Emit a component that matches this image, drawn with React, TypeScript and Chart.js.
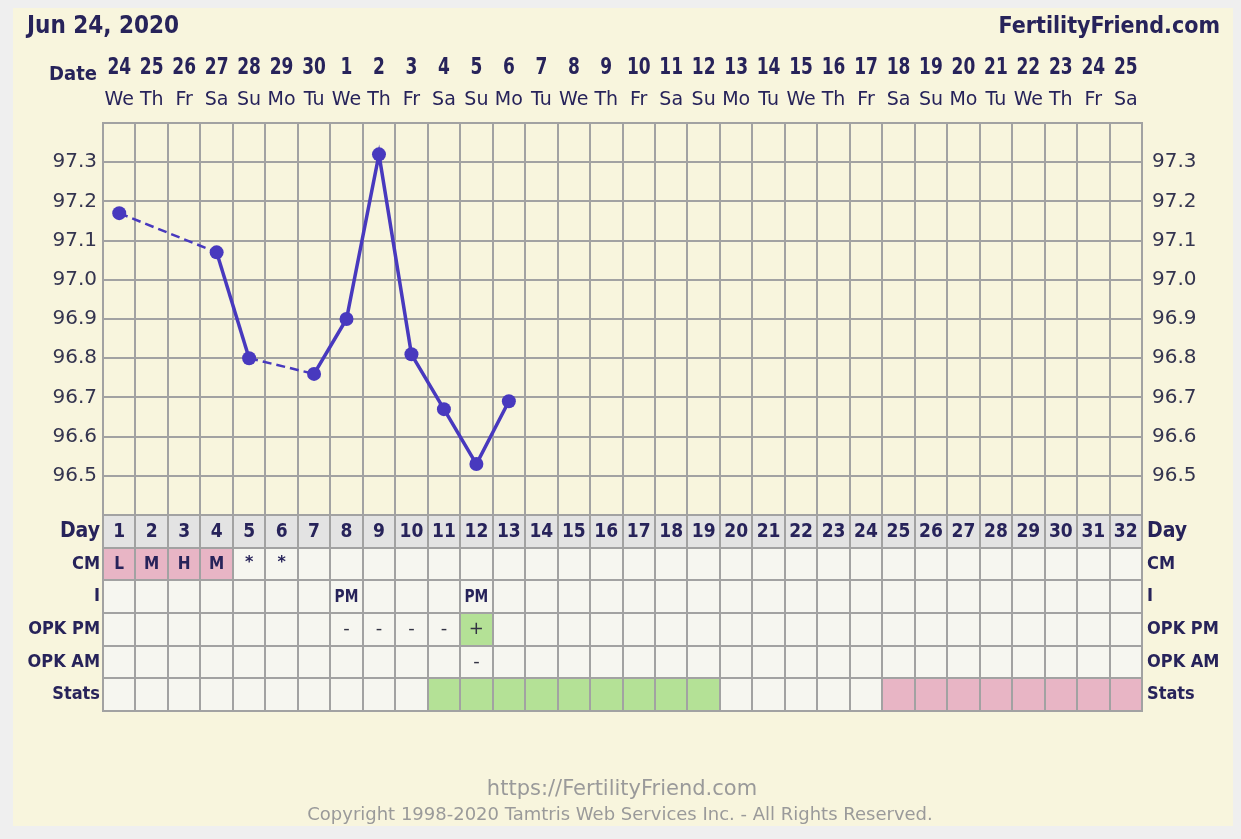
import React, { useEffect, useRef } from 'react';
import { Chart, registerables } from 'chart.js';

Chart.register(...registerables);

// ---------- data ----------
const DATE_LABELS = ['24', '25', '26', '27', '28', '29', '30', '1', '2', '3', '4', '5', '6', '7', '8', '9', '10', '11', '12', '13', '14', '15', '16', '17', '18', '19', '20', '21', '22', '23', '24', '25'];
const WEEKDAY_LABELS = ['We', 'Th', 'Fr', 'Sa', 'Su', 'Mo', 'Tu', 'We', 'Th', 'Fr', 'Sa', 'Su', 'Mo', 'Tu', 'We', 'Th', 'Fr', 'Sa', 'Su', 'Mo', 'Tu', 'We', 'Th', 'Fr', 'Sa', 'Su', 'Mo', 'Tu', 'We', 'Th', 'Fr', 'Sa'];
const CYCLE_DAYS = ['1', '2', '3', '4', '5', '6', '7', '8', '9', '10', '11', '12', '13', '14', '15', '16', '17', '18', '19', '20', '21', '22', '23', '24', '25', '26', '27', '28', '29', '30', '31', '32'];
const TEMPS = [97.17, null, null, 97.07, 96.80, null, 96.76, 96.90, 97.32, 96.81, 96.67, 96.53, 96.69, null, null, null, null, null, null, null, null, null, null, null, null, null, null, null, null, null, null, null];
const TEMP_TICKS = ['96.5', '96.6', '96.7', '96.8', '96.9', '97.0', '97.1', '97.2', '97.3'];
const ROW_LABELS = ['Day', 'CM', 'I', 'OPK PM', 'OPK AM', 'Stats'];

const CM_DAYS = [1, 2, 3, 4, 5, 6];
const CM_MARKS = ['L', 'M', 'H', 'M', '*', '*'];
const MENSES_DAYS = [1, 2, 3, 4];
const INTERCOURSE_DAYS = [8, 12];
const INTERCOURSE_MARKS = ['PM', 'PM'];
const OPK_PM_DAYS = [8, 9, 10, 11, 12];
const OPK_PM_MARKS = ['-', '-', '-', '-', '+'];
const OPK_POSITIVE_DAYS = [12];
const OPK_AM_DAYS = [12];
const OPK_AM_MARKS = ['-'];
const FERTILE_DAYS = [11, 12, 13, 14, 15, 16, 17, 18, 19];
const LUTEAL_DAYS = [25, 26, 27, 28, 29, 30, 31, 32];

const CHART_DATE = 'Jun 24, 2020';
const SITE_NAME = 'FertilityFriend.com';
const DATE_TITLE = 'Date';
const FOOTER_URL = 'https://FertilityFriend.com';
const FOOTER_COPY = 'Copyright 1998-2020 Tamtris Web Services Inc. - All Rights Reserved.';

// ---------- style ----------
const PAGE_BG = '#efefef';
const PANEL_BG = '#f8f5dd';
const GRID = '#a2a2a2';
const NAVY = '#27235a';
const TICK_TEXT = '#34344f';
const LINE = '#4839be';
const CELL_BG = '#f6f6f0';
const DAY_ROW_BG = '#e3e3e3';
const PINK = '#e8b5c5';
const GREEN = '#b4e196';
const FOOTER = '#9a9a9a';
const SANS = '"DejaVu Sans", Verdana, sans-serif';
const COND = '"DejaVu Sans Condensed", "DejaVu Sans", sans-serif';

function text(ctx: CanvasRenderingContext2D, s: string, x: number, y: number, font: string, color: string, align: CanvasTextAlign, baseline: CanvasTextBaseline = 'alphabetic', sx = 1) {
  ctx.save();
  ctx.translate(x, y);
  ctx.scale(sx, 1);
  ctx.font = font;
  ctx.fillStyle = color;
  ctx.textAlign = align;
  ctx.textBaseline = baseline;
  ctx.fillText(s, 0, 0);
  ctx.restore();
}

const tablePlugin = {
  id: 'ffTable',
  beforeDraw(chart: any) {
    const { ctx, width, height } = chart;
    const xs = chart.scales.x;
    const rs = chart.scales.rows;
    ctx.save();
    ctx.fillStyle = PAGE_BG;
    ctx.fillRect(0, 0, width, height);
    ctx.fillStyle = PANEL_BG;
    ctx.fillRect(13, 8, 1220, 818);
    const colW = xs.getPixelForValue(1) - xs.getPixelForValue(0);
    const rowH = rs.getPixelForValue(1) - rs.getPixelForValue(0);
    for (let r = 0; r < ROW_LABELS.length; r++) {
      for (let c = 0; c < CYCLE_DAYS.length; c++) {
        const day = c + 1;
        let fill = CELL_BG;
        if (r === 0) fill = DAY_ROW_BG;
        else if (r === 1 && MENSES_DAYS.includes(day)) fill = PINK;
        else if (r === 3 && OPK_POSITIVE_DAYS.includes(day)) fill = GREEN;
        else if (r === 5 && FERTILE_DAYS.includes(day)) fill = GREEN;
        else if (r === 5 && LUTEAL_DAYS.includes(day)) fill = PINK;
        const cx = xs.getPixelForValue(c);
        const cy = rs.getPixelForValue(r);
        ctx.fillStyle = fill;
        ctx.fillRect(cx - colW / 2, cy - rowH / 2, colW, rowH);
      }
    }
    ctx.restore();
  },
  afterDraw(chart: any) {
    const { ctx } = chart;
    const xs = chart.scales.x;
    const rs = chart.scales.rows;
    ctx.save();
    // titles
    text(ctx, CHART_DATE, 27, 33, `bold 24px ${COND}`, NAVY, 'left');
    text(ctx, SITE_NAME, 1220, 33, `bold 23px ${COND}`, NAVY, 'right');
    text(ctx, DATE_TITLE, 97, 80, `bold 20px ${COND}`, NAVY, 'right');
    // date numbers of the top axis (condensed bold)
    DATE_LABELS.forEach((_, i) => {
      text(ctx, xs.getLabelForValue(i), xs.getPixelForValue(i), 74, `bold 23px ${SANS}`, NAVY, 'center', 'alphabetic', 0.74);
    });
    // footer
    text(ctx, FOOTER_URL, 622, 795, `21px ${SANS}`, FOOTER, 'center');
    text(ctx, FOOTER_COPY, 620, 820, `18px ${SANS}`, FOOTER, 'center');
    // day row
    CYCLE_DAYS.forEach((d, i) => {
      text(ctx, d, xs.getPixelForValue(i), rs.getPixelForValue(0) + 1, `bold 19px ${COND}`, NAVY, 'center', 'middle');
    });
    CM_DAYS.forEach((d, i) => {
      const m = CM_MARKS[i];
      const big = m !== '*';
      text(ctx, m, xs.getPixelForValue(d - 1), rs.getPixelForValue(1) + (big ? 1 : -1), big ? `bold 17px ${COND}` : `bold 16px ${SANS}`, NAVY, 'center', 'middle');
    });
    INTERCOURSE_DAYS.forEach((d, i) => {
      text(ctx, INTERCOURSE_MARKS[i], xs.getPixelForValue(d - 1), rs.getPixelForValue(2) + 1, `bold 17px ${COND}`, NAVY, 'center', 'middle', 0.9);
    });
    OPK_PM_DAYS.forEach((d, i) => {
      text(ctx, OPK_PM_MARKS[i], xs.getPixelForValue(d - 1), rs.getPixelForValue(3), `18px ${SANS}`, '#333344', 'center', 'middle');
    });
    OPK_AM_DAYS.forEach((d, i) => {
      text(ctx, OPK_AM_MARKS[i], xs.getPixelForValue(d - 1), rs.getPixelForValue(4), `18px ${SANS}`, '#333344', 'center', 'middle');
    });
    ctx.restore();
  },
};

const tempTick = (v: any) => {
  const s = Number(v).toFixed(1);
  return TEMP_TICKS.includes(s) ? s : '';
};

const rowFont = (c: any) => (c.index === 0
  ? { family: COND, size: 21, weight: 'bold' }
  : { family: COND, size: 18, weight: 'bold' });

const skipped = (c: any, v: any) => (c.p0.skip || c.p1.skip ? v : undefined);

export default function App() {
  const ref = useRef<HTMLCanvasElement | null>(null);
  useEffect(() => {
    if (!ref.current) return;
    const chart = new Chart(ref.current, {
      type: 'line',
      data: {
        labels: DATE_LABELS,
        datasets: [
          {
            label: 'BBT',
            data: TEMPS,
            xAxisID: 'x',
            yAxisID: 'y',
            spanGaps: true,
            borderColor: LINE,
            backgroundColor: LINE,
            borderWidth: 3.5,
            pointRadius: 7,
            pointBorderWidth: 0,
            pointBackgroundColor: LINE,
            tension: 0,
            segment: {
              borderDash: (c: any) => skipped(c, [9, 5]),
              borderWidth: (c: any) => skipped(c, 2.5),
            },
          } as any,
        ],
      },
      options: {
        responsive: false,
        devicePixelRatio: 1,
        animation: false,
        events: [],
        layout: { padding: { top: 40, left: 0, right: 0, bottom: 128 } },
        plugins: { legend: { display: false }, tooltip: { enabled: false }, title: { display: false } },
        scales: {
          x: {
            type: 'category',
            position: 'top',
            weight: 2,
            labels: DATE_LABELS,
            offset: true,
            grid: { display: true, offset: true, color: GRID, lineWidth: 2, drawTicks: false },
            border: { display: false },
            ticks: { display: false, autoSkip: false, maxRotation: 0 },
            afterFit: (s: any) => { s.height = 42; },
          },
          xw: {
            type: 'category',
            position: 'top',
            weight: 1,
            labels: WEEKDAY_LABELS,
            offset: true,
            grid: { display: false, drawTicks: false },
            border: { display: false },
            ticks: { autoSkip: false, maxRotation: 0, padding: 12, color: NAVY, font: { family: SANS, size: 19 } },
            afterFit: (s: any) => { s.height = 41; },
          },
          y: {
            type: 'linear',
            position: 'left',
            stack: 'left',
            stackWeight: 2,
            weight: 2,
            min: 96.4,
            max: 97.4,
            grid: { color: GRID, lineWidth: 2, drawTicks: false },
            border: { display: true, color: GRID, width: 2 },
            ticks: { stepSize: 0.1, autoSkip: false, padding: 6, color: TICK_TEXT, font: { family: SANS, size: 20 }, callback: tempTick },
            afterFit: (s: any) => { s.width = 103; },
          },
          rows: {
            type: 'category',
            position: 'left',
            stack: 'left',
            stackWeight: 1,
            weight: 1,
            labels: ROW_LABELS,
            offset: true,
            grid: { offset: true, color: GRID, lineWidth: 2, drawTicks: false },
            border: { display: true, color: GRID, width: 2 },
            ticks: { autoSkip: false, padding: 3, color: NAVY, font: rowFont },
            afterFit: (s: any) => { s.width = 103; },
          },
          yr: {
            type: 'linear',
            position: 'right',
            stack: 'right',
            stackWeight: 2,
            weight: 1,
            min: 96.4,
            max: 97.4,
            grid: { display: false, drawTicks: false },
            border: { display: true, color: GRID, width: 2 },
            ticks: { stepSize: 0.1, autoSkip: false, padding: 10, color: TICK_TEXT, font: { family: SANS, size: 20 }, callback: tempTick },
            afterFit: (s: any) => { s.width = 99; },
          },
          rowsr: {
            type: 'category',
            position: 'right',
            stack: 'right',
            stackWeight: 1,
            weight: 2,
            labels: ROW_LABELS,
            offset: true,
            grid: { display: false, drawTicks: false },
            border: { display: true, color: GRID, width: 2 },
            ticks: { autoSkip: false, padding: 5, color: NAVY, font: rowFont },
            afterFit: (s: any) => { s.width = 99; },
          },
        },
      } as any,
      plugins: [tablePlugin],
    });
    return () => chart.destroy();
  }, []);
  return (
    <div style={{ position: 'fixed', left: 0, top: 0, width: 1241, height: 839 }}>
      <canvas ref={ref} width={1241} height={839} style={{ display: 'block' }} />
    </div>
  );
}
